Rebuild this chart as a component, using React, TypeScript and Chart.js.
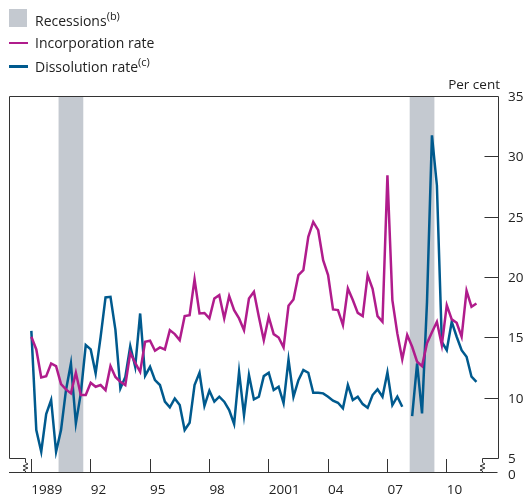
import React, { useEffect, useRef } from "react";
import { Chart, registerables } from "chart.js";

Chart.register(...registerables);

// Quarterly data, first point 1989 Q1
const START_YEAR = 1989;
const incorporationRate: number[] = [
  15.13, 14.08, 11.76, 11.87, 12.92, 12.7, 11.21, 10.77, 10.44, 12.15,
  10.3, 10.3, 11.32, 10.99, 11.13, 10.71, 12.7, 11.8, 11.4, 11.13,
  13.8, 12.97, 12.23, 14.71, 14.8, 13.97, 14.25, 14.08, 15.68, 15.35,
  14.85, 16.84, 16.92, 19.88, 17.06, 17.1, 16.65, 18.3, 18.58, 16.65,
  18.5, 17.34, 16.65, 15.68, 18.3, 18.85, 16.78, 14.85, 16.78, 15.35,
  15.07, 14.25, 17.7, 18.22, 20.24, 20.65, 23.41, 24.65, 23.96, 21.48,
  20.24, 17.39, 17.34, 16.1, 19.13, 18.17, 17.11, 16.84, 20.24, 19.1,
  16.84, 16.37, 28.52, 18.17, 15.41, 13.26, 15.27, 14.3, 13.06, 12.7,
  14.6, 15.5, 16.37, 14.44, 17.75, 16.57, 16.29, 15.13, 18.94, 17.61,
  17.89,
];
const dissolutionRate: (number | null)[] = [
  15.62, 7.4, 5.6, 8.73, 9.89, 5.6, 7.4, 10.7, 12.92, 7.95,
  10.44, 14.44, 14.08, 12.1, 15.1, 18.39, 18.44, 15.7, 10.85, 11.8,
  14.36, 12.64, 17.06, 11.9, 12.64, 11.54, 11.13, 9.75, 9.28, 10.02,
  9.47, 7.4, 8.0, 11.13, 12.15, 9.4, 10.66, 9.75, 10.16, 9.75,
  9.06, 7.9, 12.23, 8.64, 11.96, 9.94, 10.16, 11.87, 12.15, 10.71,
  10.99, 9.63, 13.23, 10.16, 11.54, 12.37, 12.15, 10.49, 10.49, 10.44,
  10.16, 9.83, 9.66, 9.2, 11.13, 9.89, 10.16, 9.55, 9.24, 10.3,
  10.77, 10.16, 12.18, 9.47, 10.16, 9.33, null, 8.56, 12.92, 8.78,
  18.0, 31.83, 27.69, 14.7, 14.02, 16.37, 15.13, 14.02, 13.47, 11.82,
  11.4,
];
const recessions: [number, number][] = [
  [1990.375, 1991.625],
  [2008.125, 2009.375],
];
const xTickYears = [1989, 1992, 1995, 1998, 2001, 2004, 2007, 2010];
const xTickLabels = ["1989", "92", "95", "98", "2001", "04", "07", "10"];
const yInnerTicks = [10, 15, 20, 25, 30];

const PINK = "#b01c8c";
const BLUE = "#005a8e";
const SHADE = "#c4c9d0";
const INK = "#222";
const AXIS = "#333";
const FONT = "'Open Sans', sans-serif";

if (typeof document !== "undefined") {
  document.body.style.margin = "0";
  document.body.style.overflow = "hidden";
}

const framePlugin = {
  id: "framePlugin",
  beforeDatasetsDraw(chart: any) {
    const { ctx, chartArea: a, scales } = chart;
    const x = scales.x;
    const base = a.bottom + 14;
    ctx.save();
    ctx.fillStyle = SHADE;
    recessions.forEach(([s, e]) => {
      const x0 = x.getPixelForValue(s);
      const x1 = x.getPixelForValue(e);
      ctx.fillRect(x0, a.top, x1 - x0, base - a.top);
    });
    ctx.restore();
  },
  afterDatasetsDraw(chart: any) {
    const { ctx, chartArea: a, scales } = chart;
    const y = scales.y;
    const L = Math.round(a.left) + 0.5;
    const R = Math.round(a.right) - 0.5;
    const T = Math.round(a.top) - 0.5;
    const B = Math.round(a.bottom) - 0.5;
    const base = B + 14;
    const lb = L + 16;
    const rb = R - 16;
    ctx.save();
    ctx.strokeStyle = AXIS;
    ctx.lineWidth = 1;
    ctx.beginPath();
    ctx.moveTo(lb, B);
    ctx.lineTo(L, B);
    ctx.lineTo(L, T);
    ctx.lineTo(R, T);
    ctx.lineTo(R, B);
    ctx.lineTo(rb, B);
    ctx.stroke();
    // break marks
    const zig = (cx: number) => {
      ctx.beginPath();
      ctx.moveTo(cx, B);
      ctx.lineTo(cx, B + 4);
      ctx.lineTo(cx + 2.5, B + 5.5);
      ctx.lineTo(cx - 2.5, B + 7.5);
      ctx.lineTo(cx + 2.5, B + 9.5);
      ctx.lineTo(cx - 2.5, B + 11.5);
      ctx.lineTo(cx, B + 12.5);
      ctx.lineTo(cx, base);
      ctx.stroke();
    };
    zig(lb);
    zig(rb);
    // baseline
    ctx.beginPath();
    ctx.moveTo(L - 0.5, base);
    ctx.lineTo(R - 1, base);
    ctx.stroke();
    // inward y ticks
    yInnerTicks.forEach((v) => {
      const py = Math.round(y.getPixelForValue(v)) - 0.5;
      ctx.beginPath();
      ctx.moveTo(R, py);
      ctx.lineTo(R - 14, py);
      ctx.stroke();
    });
    // texts
    ctx.fillStyle = INK;
    ctx.font = `13.5px ${FONT}`;
    ctx.textBaseline = "middle";
    ctx.textAlign = "left";
    ctx.fillText("0", a.right + 9, base + 2.5);
    ctx.textAlign = "right";
    ctx.fillText("Per cent", a.right + 1, a.top - 12);
    ctx.restore();
  },
};

export default function App() {
  const canvasRef = useRef<HTMLCanvasElement | null>(null);

  useEffect(() => {
    if (!canvasRef.current) return;
    const labels = incorporationRate.map((_, i) => START_YEAR + i * 0.25);
    const chart = new Chart(canvasRef.current, {
      type: "line",
      data: {
        datasets: [
          {
            label: "Incorporation rate",
            data: incorporationRate.map((v, i) => ({ x: labels[i], y: v })),
            borderColor: PINK,
            borderWidth: 2.5,
            pointRadius: 0,
            tension: 0,
            fill: false,
          },
          {
            label: "Dissolution rate",
            data: dissolutionRate.map((v, i) => ({ x: labels[i], y: v as any })),
            borderColor: BLUE,
            borderWidth: 2.5,
            pointRadius: 0,
            tension: 0,
            fill: false,
            spanGaps: false,
          },
        ],
      },
      options: {
        responsive: false,
        animation: false,
        devicePixelRatio: 1,
        layout: { padding: { left: 9, top: 97, right: 0, bottom: 0 } },
        plugins: {
          legend: { display: false },
          tooltip: { enabled: false },
        },
        scales: {
          x: {
            type: "linear",
            min: 1987.87,
            max: 2012.64,
            afterBuildTicks: (scale: any) => {
              scale.ticks = xTickYears.map((v) => ({ value: v }));
            },
            afterFit: (scale: any) => {
              scale.height = 39;
            },
            grid: {
              display: true,
              drawOnChartArea: false,
              drawTicks: true,
              tickLength: 14,
              color: AXIS,
              lineWidth: 1,
            },
            border: { display: false },
            ticks: {
              autoSkip: false,
              maxRotation: 0,
              align: "start",
              padding: 9,
              color: INK,
              font: { family: FONT, size: 13.5 },
              callback: (_v: any, i: number) => xTickLabels[i],
            },
          },
          y: {
            type: "linear",
            position: "right",
            min: 5,
            max: 35,
            afterFit: (scale: any) => {
              scale.width = 26;
            },
            grid: { display: false, drawTicks: false, tickLength: 0 },
            border: { display: false },
            ticks: {
              stepSize: 5,
              padding: 9,
              color: INK,
              font: { family: FONT, size: 13.5 },
            },
          },
        },
      },
      plugins: [framePlugin],
    });
    return () => chart.destroy();
  }, []);

  const textStyle: React.CSSProperties = {
    position: "absolute",
    left: 35,
    height: 22,
    lineHeight: "22px",
    fontFamily: FONT,
    fontSize: 14,
    color: INK,
    whiteSpace: "nowrap",
  };
  const supStyle: React.CSSProperties = {
    fontSize: 11,
    verticalAlign: "6px",
    lineHeight: 0,
  };

  return (
    <div style={{ position: "relative", width: 525, height: 498 }}>
      <canvas
        ref={canvasRef}
        width={525}
        height={498}
        style={{ position: "absolute", left: 0, top: 0, width: 525, height: 498 }}
      />
      <div
        style={{
          position: "absolute",
          left: 9,
          top: 9,
          width: 18,
          height: 18,
          background: SHADE,
        }}
      />
      <div style={{ ...textStyle, top: 10 }}>
        Recessions<sup style={supStyle}>(b)</sup>
      </div>
      <div
        style={{ position: "absolute", left: 9, top: 41.5, width: 19, height: 2.5, background: PINK }}
      />
      <div style={{ ...textStyle, top: 32 }}>Incorporation rate</div>
      <div
        style={{ position: "absolute", left: 9, top: 65, width: 19, height: 2.5, background: BLUE }}
      />
      <div style={{ ...textStyle, top: 56 }}>
        Dissolution rate<sup style={supStyle}>(c)</sup>
      </div>
    </div>
  );
}
